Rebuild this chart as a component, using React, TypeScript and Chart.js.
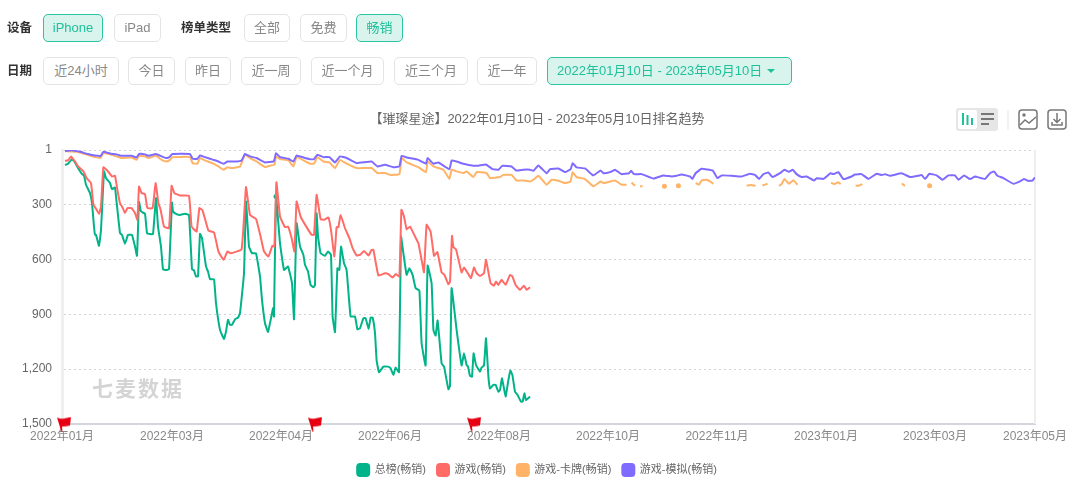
import React, { useEffect, useRef } from "react";
import { Chart, registerables } from "chart.js";

Chart.register(...registerables);

const FONT = '"Liberation Sans", "Noto Sans CJK SC", sans-serif';

const rankTicks = [1, 300, 600, 900, 1200, 1500];
const tickDays = [-1, 54, 108.5, 163, 217.5, 272, 326.5, 381, 435.5, 485.5];
const tickLabels = ["2022年01月", "2022年03月", "2022年04月", "2022年06月", "2022年08月", "2022年10月", "2022年11月", "2023年01月", "2023年03月", "2023年05月"];
const seriesNames = ["总榜(畅销)", "游戏(畅销)", "游戏-卡牌(畅销)", "游戏-模拟(畅销)"];
const flagDays = [0, 125.5, 205];
const flagRanks = [1500, 1500, 1500];

const totalDays = [0.5,2,4,5.5,7,9,10,11,13,14,15,15.5,16,17.5,18.5,20,21,23,24,25.5,26,28,29,30.5,32,33,34,35.5,36.5,37.5,38.5,40.5,41.5,43,44.5,46,47,48.5,49.5,51,52.5,54,54.5,56,58,60.5,62.5,64,65,66,67,68,69,71,72,73,75,76,78,80,81,82,83,84,85.5,87,88,90,91,92.5,94,96,98,99,100.5,102,104,104.5,105,106,108,110,112,114,115,116.3,118,119.7,120.5,122,123.3,124.7,125.5,126.3,127,128.3,130.5,132,133.5,134.3,135.5,136.7,137.7,138.5,140,141.3,143.3,145.5,146.7,148,149.7,150.8,152.3,153.3,154.3,155.5,156.3,157.5,159.7,162,163.3,164.7,165.8,167.5,168.5,169.7,171.3,172.7,174.3,175.8,177.7,178.8,180.8,181.8,183.8,184.7,185.8,186.8,188.8,190,192.2,193,193.8,196.3,198.8,200,201.3,202,203,204,204.8,206,208,208.8,210,211,212.2,213,214.7,215.8,217.2,218,219,220.8,222.2,223.2,224.2,225.5,226.8,228.5,229.3,230.2,231,233];
const totalRanks = [84,76,51,69,100,133,140,191,237,292,420,465,465,525,438,118,155,182,215,206,255,456,465,514,465,465,465,529,580,285,337,350,456,461,461,264,420,529,653,657,653,288,337,350,356,350,356,653,660,693,693,460,483,638,666,708,708,839,985,1035,994,930,958,958,927,918,894,675,283,529,566,566,693,821,949,996,894,867,912,255,511,657,638,730,927,401,529,575,629,666,739,752,739,347,474,566,580,556,575,912,998,648,657,529,620,657,912,912,982,976,921,921,980,918,918,1003,1150,1217,1186,1186,1195,1232,1191,1217,474,566,684,648,684,757,770,1058,1180,633,730,985,1016,934,1168,1186,1310,1292,757,985,1180,1113,1177,1186,1237,1241,1113,1177,1213,1191,1180,1031,1241,1305,1286,1286,1323,1314,1250,1350,1259,1208,1232,1323,1341,1378,1378,1332,1369,1350];

const gameDays = [0.5,2,3.5,5.5,7,9.7,11.3,13.5,14.7,15.8,17.5,18.5,19.7,22,24,25.5,26.7,28,29,30.5,31.7,33.8,35.5,36.7,37.5,38.8,40.5,41.7,44.3,45.8,47.2,48.3,50,52.5,53.8,55.2,58,62.5,63.8,66.3,67.7,69.3,72.2,75,77.2,79.8,81.7,83.3,88.8,91,93,96,98.3,100,102.2,104.2,105.2,106.2,108,110.5,112,113.8,115.2,116.3,118.3,121.3,123.8,125,126.3,128.3,130,132.2,133.5,135.2,136.3,137.2,138.3,140.5,142.7,144.3,146.3,148,150,152.3,153.8,154.7,157.2,160.5,162.2,164.3,165.8,167.7,168.7,170,171.3,173,175.5,177.2,178.8,180,181.3,183.3,185,186.7,188.8,190.2,192.2,193,194,194.7,196,198.8,200,202.2,203.5,205,206.3,208,210,211,213.3,215,216,217.2,218.8,220.8,223,224.2,225.8,228,230,231.3,233];
const gameRanks = [60,58,36,64,91,118,155,182,301,319,350,310,96,118,146,142,219,292,310,346,319,319,346,383,201,237,242,319,319,182,292,328,420,429,197,237,250,252,420,447,319,332,441,452,556,602,556,566,544,204,356,378,474,556,584,525,529,177,365,423,420,483,556,283,365,423,465,465,246,379,383,370,438,584,423,423,356,429,483,538,578,575,553,578,547,547,688,675,680,699,680,693,328,365,434,420,474,511,602,670,410,447,580,560,671,684,735,721,471,533,544,671,644,680,702,644,675,690,675,602,730,743,721,739,711,739,684,693,739,766,743,766,752];

const cardDays = [0.5,6.3,12.2,15.5,18.3,19.7,23,26.3,28.8,33.8,36.3,37.5,40.5,42.2,46,48.8,51.3,53,54.2,63,64.3,66.7,68,70.5,74.7,77.2,79.8,81.7,83.8,88,90.5,93,96.3,100.5,103,105.2,106,108,112.2,114.7,116.3,123,125,126.7,129.7,132.7,135.5,138,141.3,146.3,153.8,156.7,160.5,163,167.7,168.8,171.3,177.2,181,181.8,184.7,189.7,192.7,193.8,196.3,199.7,201.3,204.7,206.3,211.3,213,218,219.7,223.8,226.3,229.7,233,234.7,237.2,241.3,243.8,247.2,250.5,253.3,254.3,256.3,260.5,264.7,268.3,270,275.5,278.8,281.3,282.5,283.8,285.5,286.5,288,289.3,295,300.2,304,307.2,312,315.8,317.5,318.8,321.3,323,324.7,330,341.3,343.8,345.8,347.5,349.2,351.8,354,357.5,358.8,360.2,362.5,364.7,366.7,375,383.5,385.2,387.2,388.3,392,395.8,397.7,399.2,410,418.8,420.5,426,432.8];
const cardRanks = [8,11,29,40,44,18,25,36,45,42,55,33,36,45,33,55,64,55,40,40,73,76,45,58,76,91,109,95,100,91,27,45,64,95,87,82,36,51,58,91,40,76,76,40,64,69,100,55,76,100,100,127,127,137,133,45,69,95,122,64,91,109,159,109,118,127,118,149,122,127,155,149,137,137,168,168,173,164,142,191,164,169,182,173,122,149,160,200,173,182,168,191,191,null,179,197,null,200,200,null,200,null,197,null,182,191,168,164,173,186,null,195,193,197,null,195,186,null,197,188,160,186,166,191,null,179,188,177,188,null,197,195,188,null,184,197,null,197];

const simDays = [0.5,3.8,8,12,15.5,18.3,19.7,23,26.3,28.8,33.8,36.3,37.5,40.5,42.2,46,48.8,51,52.7,54.2,63,64.3,66.7,68,70.5,74.7,77.2,79.8,81.7,86.3,88.8,90.5,93,96.3,100.5,104.7,105.2,106,108,112.2,114.7,116.3,119.7,123,125,126.7,129.7,132.7,135.5,138,141.3,146.3,153.8,156.7,160.5,164.7,167.7,168.8,171.3,177.2,181,181.8,184.7,187.2,192.7,193.8,196.3,199.7,204.7,207.2,211,214.3,217.2,219.2,223.8,226,229.7,233,234.7,237.2,241.3,243,247.2,250.5,253.3,254.3,256.3,260.5,264.7,268.3,269.7,273,275.5,278.8,282.5,283.5,285,288.8,294.7,299.7,303.8,306.3,308.8,313,314.2,315.8,318.8,324.3,326.7,328.8,333.8,338.8,343,345.5,347.5,349.7,352.2,354.2,358,360.2,362.5,364.3,366.3,368.8,371.3,375,376.3,379.7,383.3,384.7,387.2,389.7,393.8,395.5,398.8,402.2,406.3,408.8,410.5,413,418.8,423,427.2,428.8,430.5,432.7,436.3,439.3,442.2,445.5,447.2,450,453,455.5,460.5,463,465,466.7,469.7,474.7,478,480,482.2,484.2,485.5];
const simRanks = [7,3,11,23,31,33,11,20,25,33,33,42,23,25,33,23,36,45,40,23,23,49,49,31,40,55,64,76,64,64,58,23,36,45,69,64,55,18,40,49,64,31,42,51,51,27,40,40,69,36,45,73,64,91,82,95,91,33,42,55,76,45,76,69,106,58,64,76,87,87,80,106,109,87,91,113,109,109,115,86,128,106,102,122,106,73,96,102,140,113,128,122,109,133,128,115,133,133,157,140,146,142,135,146,159,128,104,113,155,140,142,146,131,137,159,133,124,149,128,109,120,109,133,149,146,168,155,159,128,133,122,160,146,135,133,159,131,138,133,142,128,149,142,137,160,131,140,164,140,140,164,140,160,146,160,128,118,142,155,186,173,159,170,168,151];

const markedTotalDays = [106];
const markedGameDays = [106];

const buttonsTop = [
  { text: "iPhone", left: 43, width: 60, on: true },
  { text: "iPad", left: 114, width: 47, on: false },
  { text: "全部", left: 244, width: 46, on: false },
  { text: "免费", left: 300, width: 47, on: false },
  { text: "畅销", left: 356, width: 47, on: true },
];
const buttonsBottom = [
  { text: "近24小时", left: 43, width: 76, on: false },
  { text: "今日", left: 128, width: 47, on: false },
  { text: "昨日", left: 185, width: 46, on: false },
  { text: "近一周", left: 241, width: 60, on: false },
  { text: "近一个月", left: 311, width: 73, on: false },
  { text: "近三个月", left: 394, width: 74, on: false },
  { text: "近一年", left: 477, width: 60, on: false },
];

function makeFlag() {
  const c = document.createElement("canvas");
  c.width = 16;
  c.height = 15;
  const g = c.getContext("2d")!;
  g.fillStyle = "#e60012";
  g.beginPath();
  g.moveTo(1, 1);
  g.quadraticCurveTo(5, 3, 8, 2);
  g.quadraticCurveTo(12, 1, 15, 0.5);
  g.lineTo(14, 9);
  g.quadraticCurveTo(10, 10, 7, 10);
  g.lineTo(6, 10);
  g.lineTo(6.5, 14.5);
  g.lineTo(5, 14.5);
  g.lineTo(3.5, 9);
  g.closePath();
  g.fill();
  return c;
}

const framePlugin = {
  id: "frame",
  beforeDatasetsDraw(chart: any) {
    const { ctx, chartArea } = chart;
    ctx.save();
    ctx.strokeStyle = "#eeeeee";
    ctx.lineWidth = 2;
    ctx.beginPath();
    ctx.moveTo(chartArea.right, chartArea.top);
    ctx.lineTo(chartArea.right, chartArea.bottom);
    ctx.stroke();
    ctx.restore();
  },
};

function pts(days: number[], ranks: (number | null)[]) {
  return days.map((x, i) => ({ x, y: ranks[i] }));
}

function radiusFor(ranks: (number | null)[], days: number[], marked: number[]) {
  return (ctx: any) => {
    const i = ctx.dataIndex;
    if (ranks[i] == null) return 0;
    if (marked.includes(days[i])) return 2.5;
    const prev = i > 0 ? ranks[i - 1] : null;
    const next = i < ranks.length - 1 ? ranks[i + 1] : null;
    return prev == null && next == null ? 2.5 : 0;
  };
}

function line(name: string, color: string, days: number[], ranks: (number | null)[], order: number, marked: number[] = []) {
  return {
    label: name,
    data: pts(days, ranks),
    borderColor: color,
    backgroundColor: color,
    borderWidth: 2,
    pointRadius: radiusFor(ranks, days, marked),
    pointBorderWidth: 0,
    tension: 0.1,
    spanGaps: false,
    order,
  };
}

function Btn({ b, top }: { b: any; top: number }) {
  return (
    <div
      style={{
        position: "absolute",
        left: b.left,
        top,
        width: b.width,
        height: 28,
        boxSizing: "border-box",
        lineHeight: "26px",
        textAlign: "center",
        fontSize: 13,
        borderRadius: 5,
        border: b.on ? "1px solid #2cc5a2" : "1px solid #e4e4e4",
        background: b.on ? "#d9f3ed" : "#fff",
        color: b.on ? "#1fc19b" : "#888",
      }}
    >
      {b.text}
    </div>
  );
}

function Label({ text, left, top }: { text: string; left: number; top: number }) {
  return <div style={{ position: "absolute", left, top, fontSize: 12.5, lineHeight: "28px", fontWeight: 700, color: "#333" }}>{text}</div>;
}

export default function App() {
  const ref = useRef<HTMLCanvasElement>(null);
  useEffect(() => {
    const flag = makeFlag();
    const chart = new Chart(ref.current!, {
      type: "line",
      data: {
        datasets: [
          line(seriesNames[0], "#00b389", totalDays, totalRanks, 4, markedTotalDays),
          line(seriesNames[1], "#ff6b66", gameDays, gameRanks, 3, markedGameDays),
          line(seriesNames[2], "#ffb366", cardDays, cardRanks, 2),
          line(seriesNames[3], "#7f6bff", simDays, simRanks, 1),
          {
            label: "flags",
            data: pts(flagDays, flagRanks),
            showLine: false,
            pointStyle: flag,
            pointRadius: 8,
            clip: false,
            order: 0,
          } as any,
        ],
      },
      options: {
        responsive: false,
        animation: false,
        layout: { padding: { top: 112, bottom: 0, left: 39, right: 45 } },
        plugins: {
          tooltip: { enabled: false },
          title: {
            display: true,
            text: "【璀璨星途】2022年01月10日 - 2023年05月10日排名趋势",
            color: "#666",
            font: { family: FONT, size: 13, weight: "normal" },
            padding: { top: 0, bottom: 22.4 },
          },
          legend: {
            position: "bottom",
            labels: {
              boxWidth: 12,
              boxHeight: 12,
              useBorderRadius: true,
              borderRadius: 3,
              padding: 11,
              color: "#666",
              font: { family: FONT, size: 11 },
              filter: (item: any) => item.text !== "flags",
              sort: (a: any, b: any) => a.datasetIndex - b.datasetIndex,
            },
          },
        },
        scales: {
          x: {
            type: "linear",
            min: -1,
            max: 485.5,
            afterFit: (s: any) => { s.height = 29; s.paddingLeft = 0; s.paddingRight = 0; },
            afterBuildTicks: (s: any) => { s.ticks = tickDays.map((value) => ({ value })); },
            grid: { display: false, drawTicks: false },
            border: { color: "#d3d6dd", width: 2 },
            ticks: {
              autoSkip: false,
              maxRotation: 0,
              padding: 5,
              color: "#888",
              font: { family: FONT, size: 12 },
              callback: (v: any) => tickLabels[tickDays.indexOf(Number(v))],
            },
          },
          y: {
            type: "linear",
            reverse: true,
            min: 1,
            max: 1500,
            afterFit: (s: any) => { s.width = 23; s._computeLabelArea = () => undefined; },
            afterBuildTicks: (s: any) => { s.ticks = rankTicks.map((value) => ({ value })); },
            grid: { color: "#d2d2d2", drawTicks: false },
            border: { color: "#efefef", width: 3, dash: [2, 3] },
            ticks: {
              padding: 10,
              color: "#666",
              font: { family: FONT, size: 12 },
              callback: (v: any) => Number(v).toLocaleString("en-US"),
            },
          },
        },
      } as any,
      plugins: [framePlugin],
    });
    return () => chart.destroy();
  }, []);

  return (
    <div style={{ position: "fixed", left: 0, top: 0, width: 1080, height: 486, background: "#fff", fontFamily: FONT, overflow: "hidden" }}>
      <canvas ref={ref} width={1080} height={486} style={{ position: "absolute", left: 0, top: 0, width: 1080, height: 486 }} />
      <Label text="设备" left={7} top={14} />
      <Label text="榜单类型" left={181} top={14} />
      <Label text="日期" left={7} top={57} />
      {buttonsTop.map((b) => <Btn key={b.text} b={b} top={14} />)}
      {buttonsBottom.map((b) => <Btn key={b.text} b={b} top={57} />)}
      <div style={{ position: "absolute", left: 547, top: 57, width: 245, height: 28, boxSizing: "border-box", lineHeight: "26px", paddingLeft: 9, fontSize: 13, borderRadius: 5, border: "1px solid #2cc5a2", background: "#d9f3ed", color: "#1fc19b", whiteSpace: "nowrap" }}>
        2022年01月10日 - 2023年05月10日
        <span style={{ display: "inline-block", marginLeft: 5, width: 0, height: 0, verticalAlign: 2, borderLeft: "4px solid transparent", borderRight: "4px solid transparent", borderTop: "4px solid #1fc19b" }} />
      </div>
      <div style={{ position: "absolute", left: 92, top: 376, fontSize: 21, lineHeight: "26px", letterSpacing: 2, color: "#d4d4d4", fontWeight: 700 }}>七麦数据</div>
      <svg style={{ position: "absolute", left: 955, top: 107 }} width={115} height={26}>
        <rect x={1} y={1} width={42} height={23} rx={3} fill="#e6e6e6" />
        <rect x={3} y={3} width={19} height={19} rx={2} fill="#fff" />
        <path d="M8 6v12M12.5 8v10M17 11v7" stroke="#1fc19b" strokeWidth={2} />
        <path d="M26 7h13M26 12h13M26 17h8" stroke="#777" strokeWidth={2} />
        <path d="M53 3v20" stroke="#e5e5e5" />
        <rect x={64} y={3} width={18} height={19} rx={3} fill="none" stroke="#777" strokeWidth={1.5} />
        <path d="M65 18l5-5 4 3 7-6" fill="none" stroke="#777" strokeWidth={1.5} />
        <circle cx={69} cy={8} r={1.7} fill="#777" />
        <rect x={93} y={3} width={18} height={19} rx={3} fill="none" stroke="#777" strokeWidth={1.5} />
        <path d="M102 6v9M98.5 12l3.5 3.5 3.5-3.5M97 15v3h10v-3" fill="none" stroke="#777" strokeWidth={1.5} />
      </svg>
    </div>
  );
}
